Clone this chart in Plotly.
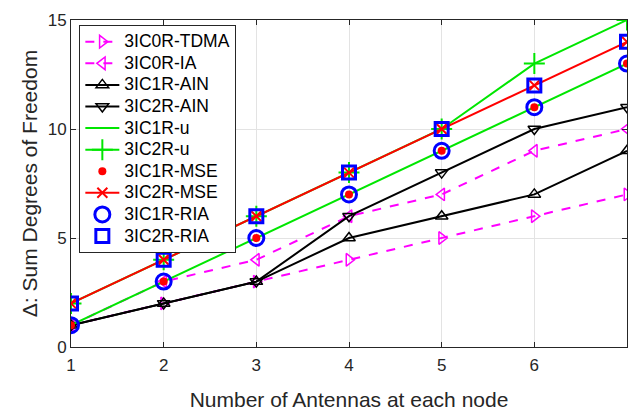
import plotly.graph_objects as go

x = [1, 2, 3, 4, 5, 6, 7]
tdma_0r = [1, 2, 3, 4, 5, 6, 7]
ia_0r = [1, 3, 4, 6, 7, 9, 10]
ain_1r = [1, 2, 3, 5, 6, 7, 9]
ain_2r = [1, 2, 3, 6, 8, 10, 11]
u_1r = [1, 3, 5, 7, 9, 11, 13]
u_2r = [2, 4, 6, 8, 10, 13, 15]
mse_1r = [1, 3, 5, 7, 9, 11, 13]
mse_2r = [2, 4, 6, 8, 10, 12, 14]
ria_1r = [1, 3, 5, 7, 9, 11, 13]
ria_2r = [2, 4, 6, 8, 10, 12, 14]
x_ticks = [1, 2, 3, 4, 5, 6]
y_ticks = [0, 5, 10, 15]

MAG = "#ff00ff"
GRN = "#00e600"
FONT = "Liberation Sans, Arial"
fig = go.Figure()

def add(name, y, mode, color, dash="solid", symbol=None, msize=10, mlw=1.5, lw=2, mcolor=None):
    marker = dict(color=mcolor or color, size=msize, line=dict(color=mcolor or color, width=mlw))
    if symbol:
        marker["symbol"] = symbol
    label = '<span style="font-size:17.5px">' + name + '</span>'
    fig.add_trace(go.Scatter(x=x, y=y, name=label, mode=mode,
                             line=dict(color=color, width=lw, dash=dash),
                             marker=marker))

add("3IC0R-TDMA", tdma_0r, "lines+markers", MAG, dash="dash", symbol="triangle-right-open", msize=11, mlw=1.5)
add("3IC0R-IA", ia_0r, "lines+markers", MAG, dash="dash", symbol="triangle-left-open", msize=11, mlw=1.5)
add("3IC1R-AIN", ain_1r, "lines+markers", "black", symbol="triangle-up-open", msize=11, mlw=1.5)
add("3IC2R-AIN", ain_2r, "lines+markers", "black", symbol="triangle-down-open", msize=11, mlw=1.5)
add("3IC1R-u", u_1r, "lines", GRN)
add("3IC2R-u", u_2r, "lines+markers", GRN, symbol="cross-thin-open", msize=15, mlw=2)
add("3IC1R-MSE", mse_1r, "markers", "red", symbol="circle", msize=8, mlw=0)
add("3IC2R-MSE", mse_2r, "lines+markers", "red", symbol="x-thin-open", msize=10, mlw=2)
add("3IC1R-RIA", ria_1r, "markers", "blue", symbol="circle-open", msize=15, mlw=3)
add("3IC2R-RIA", ria_2r, "markers", "blue", symbol="square-open", msize=13, mlw=3)

axis_common = dict(showline=True, linecolor="#262626", linewidth=1, mirror="allticks",
                   ticks="inside", ticklen=5, tickcolor="#262626",
                   showgrid=True, gridcolor="#e3e3e3", gridwidth=1, zeroline=False,
                   automargin=False,
                   tickfont=dict(family=FONT, size=17, color="#262626"),
                   title_font=dict(family=FONT, size=21, color="#262626"))

fig.update_layout(
    width=635, height=411,
    margin=dict(l=71, r=8, t=20, b=64),
    paper_bgcolor="white", plot_bgcolor="white",
    font=dict(family=FONT, color="#262626"),
    xaxis=dict(range=[1, 7], tickvals=x_ticks, ticklabelstandoff=3,
               title=dict(text="Number of Antennas at each node", standoff=18), **axis_common),
    yaxis=dict(range=[0, 15], tickvals=y_ticks,
               title=dict(text="Δ: Sum Degrees of Freedom", standoff=4), **axis_common),
    legend=dict(x=0.015, y=0.985, xanchor="left", yanchor="top",
                bgcolor="white", bordercolor="#262626", borderwidth=1,
                font=dict(family=FONT, size=14.3, color="black"),
                itemwidth=34, tracegroupgap=0),
    showlegend=True,
)

fig.write_html("out.html")
